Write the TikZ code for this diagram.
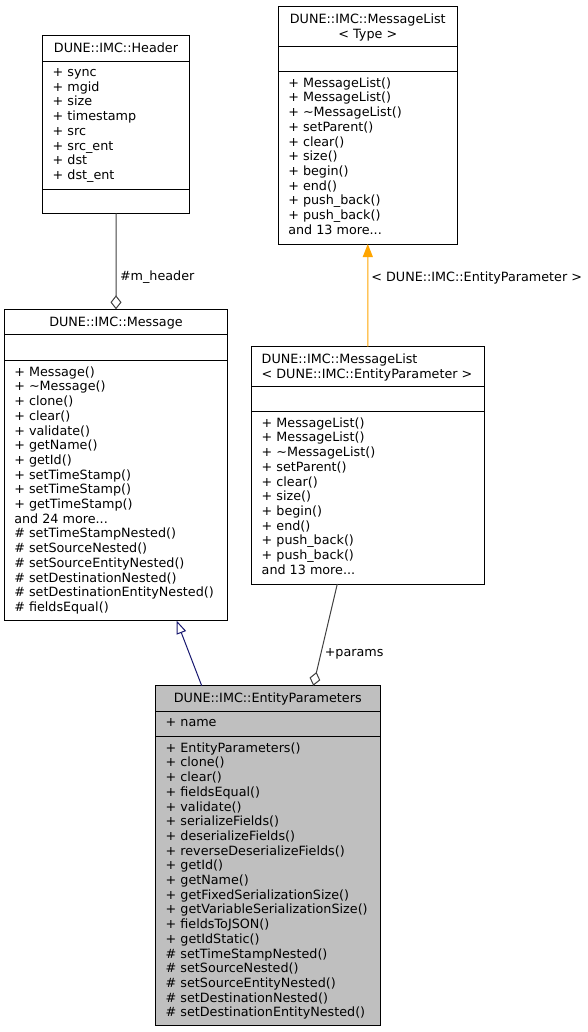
\documentclass[tikz,border=0pt]{standalone}
\usepackage{fontspec}
\setmainfont{DejaVu Sans}
\usetikzlibrary{arrows.meta}
\definecolor{edgegray}{HTML}{404040}
\definecolor{inhblue}{HTML}{191970}
\definecolor{tplorange}{HTML}{FFA500}
\definecolor{epfill}{HTML}{BFBFBF}
\begin{document}
\begin{tikzpicture}[x=1bp,y=-1bp,
  classbox/.style={draw=black, line width=1bp, rectangle, inner sep=0pt, outer sep=0pt, anchor=north west, fill=white},
  sepline/.style={draw=black, line width=1bp},
  umltext/.style={inner sep=0pt, outer sep=0pt, font=\fontsize{12.75bp}{14.7bp}\selectfont},
  lefttext/.style={umltext, anchor=north west},
  centertext/.style={umltext, anchor=north},
  edgelabel/.style={umltext, anchor=base west},
  comp/.style={draw=edgegray, line width=1bp, -{Diamond[fill=white, length=14bp, width=11bp, line width=1bp]}},
  inh/.style={draw=inhblue, line width=1bp, -{Triangle[fill=white, length=13bp, width=10bp, line width=1bp]}},
  tmpl/.style={draw=tplorange, line width=1bp, -{Triangle[fill=tplorange, length=13bp, width=10bp]}}]
\useasboundingbox (0,0) rectangle (588,1032);

% ---------- DUNE::IMC::Header ----------
\node[classbox, minimum width=146.6bp, minimum height=177.6bp] (hdr) at (42.7,35.7) {};
\draw[sepline] ([yshift=-25.3bp]hdr.north west) -- ([yshift=-25.3bp]hdr.north east);
\draw[sepline] ([yshift=-153.6bp]hdr.north west) -- ([yshift=-153.6bp]hdr.north east);
\node[centertext] (hdrtitle) at (116,42.41) {\begin{tabular}{@{}c@{}}DUNE::IMC::Header\end{tabular}};
\node[lefttext] (hdrattr) at (52.7,66.21) {\begin{tabular}{@{}l@{}}
+ sync\\ + mgid\\ + size\\ + timestamp\\ + src\\ + src\_ent\\ + dst\\ + dst\_ent
\end{tabular}};

% ---------- DUNE::IMC::Message ----------
\node[classbox, minimum width=223.4bp, minimum height=311.4bp] (msg) at (4.3,309.3) {};
\draw[sepline] ([yshift=-25bp]msg.north west) -- ([yshift=-25bp]msg.north east);
\draw[sepline] ([yshift=-51.4bp]msg.north west) -- ([yshift=-51.4bp]msg.north east);
\node[centertext] (msgtitle) at (116,315.71) {\begin{tabular}{@{}c@{}}DUNE::IMC::Message\end{tabular}};
\node[lefttext] (msgops) at (14.3,365.91) {\begin{tabular}{@{}l@{}}
+ Message()\\ + \textasciitilde Message()\\ + clone()\\ + clear()\\ + validate()\\ + getName()\\ + getId()\\ + setTimeStamp()\\ + setTimeStamp()\\ + getTimeStamp()\\ and 24 more...\\
\# setTimeStampNested()\\ \# setSourceNested()\\ \# setSourceEntityNested()\\ \# setDestinationNested()\\ \# setDestinationEntityNested()\\ \# fieldsEqual()
\end{tabular}};

% ---------- DUNE::IMC::MessageList< Type > ----------
\node[classbox, minimum width=179bp, minimum height=237.3bp] (mlt) at (278.3,6.7) {};
\draw[sepline] ([yshift=-40bp]mlt.north west) -- ([yshift=-40bp]mlt.north east);
\draw[sepline] ([yshift=-65bp]mlt.north west) -- ([yshift=-65bp]mlt.north east);
\node[centertext] (mlttitle) at (367.8,13.01) {\begin{tabular}{@{}c@{}}DUNE::IMC::MessageList\\ < Type >\end{tabular}};
\node[lefttext] (mltops) at (288.3,76.91) {\begin{tabular}{@{}l@{}}
+ MessageList()\\ + MessageList()\\ + \textasciitilde MessageList()\\ + setParent()\\ + clear()\\ + size()\\ + begin()\\ + end()\\ + push\_back()\\ + push\_back()\\ and 13 more...
\end{tabular}};

% ---------- DUNE::IMC::MessageList< DUNE::IMC::EntityParameter > ----------
\node[classbox, minimum width=232.3bp, minimum height=237.3bp] (mlep) at (251.7,346.7) {};
\draw[sepline] ([yshift=-40bp]mlep.north west) -- ([yshift=-40bp]mlep.north east);
\draw[sepline] ([yshift=-65bp]mlep.north west) -- ([yshift=-65bp]mlep.north east);
\node[lefttext] (mleptitle) at (261.7,353.01) {\begin{tabular}{@{}l@{}}DUNE::IMC::MessageList\\ < DUNE::IMC::EntityParameter >\end{tabular}};
\node[lefttext] (mlepops) at (261.7,416.91) {\begin{tabular}{@{}l@{}}
+ MessageList()\\ + MessageList()\\ + \textasciitilde MessageList()\\ + setParent()\\ + clear()\\ + size()\\ + begin()\\ + end()\\ + push\_back()\\ + push\_back()\\ and 13 more...
\end{tabular}};

% ---------- DUNE::IMC::EntityParameters ----------
\node[classbox, fill=epfill, minimum width=224.3bp, minimum height=339.3bp] (ep) at (155.7,685.7) {};
\draw[sepline] ([yshift=-26bp]ep.north west) -- ([yshift=-26bp]ep.north east);
\draw[sepline] ([yshift=-51bp]ep.north west) -- ([yshift=-51bp]ep.north east);
\node[centertext] (eptitle) at (267.8,691.71) {\begin{tabular}{@{}c@{}}DUNE::IMC::EntityParameters\end{tabular}};
\node[lefttext] (epattr) at (165.7,716.41) {\begin{tabular}{@{}l@{}}+ name\end{tabular}};
\node[lefttext] (epops) at (165.7,741.91) {\begin{tabular}{@{}l@{}}
+ EntityParameters()\\ + clone()\\ + clear()\\ + fieldsEqual()\\ + validate()\\ + serializeFields()\\ + deserializeFields()\\ + reverseDeserializeFields()\\ + getId()\\ + getName()\\ + getFixedSerializationSize()\\ + getVariableSerializationSize()\\ + fieldsToJSON()\\ + getIdStatic()\\
\# setTimeStampNested()\\ \# setSourceNested()\\ \# setSourceEntityNested()\\ \# setDestinationNested()\\ \# setDestinationEntityNested()
\end{tabular}};

% ---------- connectors ----------
\draw[comp] (hdr.south) -- (msg.north);
\node[edgelabel] (mhlabel) at (120,280.5) {\#m\_header};

\draw[tmpl] (mlep.north) -- (mlt.south);
\node[edgelabel] (tpllabel) at (371.4,281) {< DUNE::IMC::EntityParameter >};

\draw[inh] ([xshift=46bp]ep.north west) -- ([xshift=172.4bp]msg.south west);

\draw[comp] ([xshift=85.6bp]mlep.south west) -- ([xshift=157.6bp]ep.north west);
\node[edgelabel] (paramslabel) at (324.8,656.3) {+params};
\end{tikzpicture}
\end{document}
